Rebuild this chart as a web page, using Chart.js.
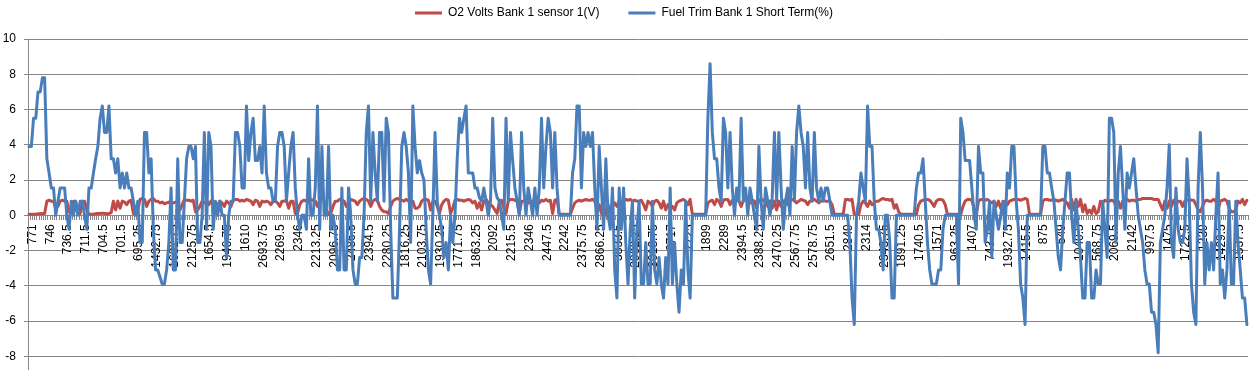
<!DOCTYPE html>
<html>
<head>
<meta charset="utf-8">
<script src="https://cdn.jsdelivr.net/npm/chart.js@4/dist/chart.umd.min.js"></script>
<style>
html,body{margin:0;padding:0;background:#fff;overflow:hidden;}
canvas{display:block;}
</style>
</head>
<body>
<canvas id="c" width="1256" height="400"></canvas>
<script>
// X-axis tick labels (one every 8 samples)
const tickLabels = ["771","746","736.5","711.5","704.5","701.5","695.25","1432.75","1632.75","2125.75","1654.5","1946.75","1610","2693.75","2269.5","2346","2213.25","2096.75","2486.5","2394.5","2280.25","1816.25","2103.75","1930.25","1771.75","1863.25","2092","2215.5","2346","2447.5","2242","2375.75","2866.25","3833.5","2902.25","3018.75","2717","2725","1899","2289","2394.5","2388.25","2470.25","2567.75","2578.75","2651.5","2849","2314","2343.75","1891.25","1740.5","1571","963.25","1407","743.75","1932.75","1415.5","875","549","1040.5","568.75","2069.5","2142","997.5","1475","1722.5","1239","1429.5","1537.5"];
const labelEvery = 8;

// O2 Volts Bank 1 sensor 1 (V)
const o2Volts = [
0.05,0.05,0.05,0.06,0.08,0.08,0.1,0.1,
0.8,0.85,0.8,0.8,0.4,0.5,0.8,0.85,
0.8,0.8,0.2,0.3,0.8,0.8,0.05,0.1,
0.8,0.8,0.3,0.05,0.05,0.06,0.08,0.1,
0.1,0.12,0.1,0.08,0.1,0.15,0.8,0.3,
0.8,0.4,0.8,0.75,0.6,0.8,0.85,0.1,
0.1,0.3,0.9,0.95,0.9,0.5,0.8,0.9,
0.95,0.8,0.8,0.7,0.75,0.65,0.7,0.75,
0.6,0.7,0.75,0.7,0.3,0.6,0.9,0.85,
0.85,0.8,0.85,0.2,0.3,0.5,0.8,0.7,
0.8,0.6,0.8,0.75,0.2,0.6,0.8,0.7,
0.5,0.8,0.7,0.5,0.85,0.9,0.9,0.8,
0.85,0.8,0.9,0.85,0.8,0.6,0.85,0.8,
0.5,0.8,0.75,0.8,0.75,0.6,0.8,0.8,
0.7,0.5,0.8,0.8,0.85,0.4,0.8,0.8,
0.1,0.1,0.6,0.8,0.85,0.8,0.8,0.9,
0.85,0.8,0.5,0.8,0.9,0.85,0.3,0.05,
0.1,0.5,0.8,0.8,0.9,0.85,0.8,0.5,
0.7,0.9,0.85,0.8,0.6,0.8,0.9,0.95,
0.9,0.8,0.5,0.8,0.9,0.85,0.5,0.3,
0.2,0.2,0.1,0.5,0.8,0.9,0.95,0.9,
0.85,0.8,0.9,0.8,0.8,0.8,0.4,0.4,
0.5,0.8,0.9,0.9,0.85,0.3,0.8,0.8,
0.5,0.1,0.6,0.8,0.9,0.85,0.1,0.4,
0.85,0.9,0.85,0.85,0.8,0.85,0.9,0.85,
0.7,0.8,0.4,0.7,0.3,0.8,0.9,0.7,
0.6,0.5,0.3,0.1,0.8,0.85,0.4,0.1,
0.8,0.9,0.9,0.85,0.8,0.1,0.8,0.8,
0.9,0.7,0.8,0.8,0.85,0.8,0.7,0.85,
0.8,0.9,0.8,0.85,0.1,0.85,0.9,0.05,
0.05,0.05,0.05,0.05,0.05,0.4,0.7,0.8,
0.85,0.8,0.85,0.9,0.85,0.85,0.9,0.8,
0.3,0.6,0.1,0.5,0,0.6,0.2,0.5,
0.7,0.5,0.8,0.7,0.85,0.9,0.85,0.9,
0.8,0.85,0.8,0.8,0.85,0.6,0.3,0.8,
0.7,0.5,0.8,0.85,0.7,0.4,0.8,0.3,
0.6,0.4,0.5,0.3,0.7,0.8,0.85,0.9,
0.8,0.6,0.9,0.05,0.05,0.05,0.05,0.05,
0.05,0.05,0.7,0.8,0.85,0.6,0.9,0.8,
0.5,0.85,0.9,0.9,0.6,0.85,0.8,0.9,
0.8,0.5,0.85,0.9,0.8,0.7,0.85,0.8,
0.4,0.85,0.9,0.85,0.8,0.5,0.8,0.4,
0.8,0.3,0.8,0.5,0.8,0.85,0.6,0.8,
0.9,0.85,0.7,0.8,0.9,0.85,0.8,0.6,
0.8,0.85,0.9,0.8,0.7,0.8,0.85,0.8,
0.8,0.8,0.6,0.05,0.05,0.05,0.05,0.05,
0.9,0.9,0.85,0.9,0.05,0.05,0.05,0.6,
0.8,0.7,0.5,0.8,0.6,0.7,0.8,0.8,
0.9,0.95,0.9,0.9,0.85,0.9,0.4,0.6,
0.2,0.05,0.05,0.05,0.05,0.05,0.05,0.05,
0.05,0.6,0.8,0.85,0.9,0.9,0.85,0.7,
0.5,0.8,0.9,0.9,0.85,0.6,0.05,0.05,
0.05,0.05,0.05,0.05,0.05,0.5,0.8,0.9,
0.9,0.85,0.4,0.05,0.8,0.9,0.9,0.85,
0.9,0.8,0.7,0.8,0.5,0.8,0.4,0.7,
0.8,0.6,0.8,0.85,0.9,0.9,0.9,0.85,
0.9,0.95,0.9,0.05,0.05,0.05,0.05,0.05,
0.05,0.8,0.9,0.9,0.85,0.85,0.9,0.85,
0.8,0.85,0.9,0.8,0.7,0.4,0.9,0.3,
0.9,0.5,0.9,0.2,0.6,0.1,0.3,0.1,
0.5,0.1,0.2,0.8,0.7,0.85,0.8,0.8,
0.85,0.8,0.5,0.8,0.4,0.8,0.85,0.9,
0.8,0.85,0.85,0.8,0.9,0.9,0.95,0.95,
0.95,0.95,0.95,0.9,0.9,0.9,0.6,0.3,
0.8,0.4,0.8,0.5,0.85,0.6,0.8,0.8,
0.5,0.8,0.85,0.9,0.85,0.85,0.6,0.3,
0.2,0.5,0.8,0.85,0.8,0.8,0.9,0.8,
0.3,0.8,0.85,0.9,0.8,0.4,0.2,0.2,
0.3,0.8,0.7,0.9,0.6,0.85
];

// Fuel Trim Bank 1 Short Term (%)
const fuelTrim = [
3.9,3.9,5.5,5.5,7.0,7.0,7.8,7.8,
3.2,2.4,1.55,1.55,0,0.8,1.55,1.55,
1.55,0,-0.8,0.8,0,0.8,0,0.8,
0.8,0,-0.8,1.55,1.55,2.4,3.2,3.9,
5.5,6.2,4.7,4.7,6.2,3.2,3.2,2.4,
3.2,1.55,2.4,1.55,2.4,1.55,1.55,0.8,
0,0.8,-1.55,-1.55,4.7,4.7,2.4,3.2,
-0.8,-3.1,-3.1,-3.5,-3.9,-3.9,-3.1,-1.55,
1.55,-3.1,-3.1,3.2,-1.55,-1.55,0.8,3.2,
3.9,3.9,3.2,3.9,-1.55,-1.55,0,4.7,
-0.8,4.7,3.9,-0.8,0.8,0,0.8,0,
0,-2.4,0,0.8,0.8,4.7,4.7,3.9,
1.55,1.55,6.2,3.1,4.7,5.5,3.1,3.1,
3.9,2.4,6.2,2.4,1.55,1.55,0.8,0.8,
3.9,4.7,4.7,3.9,0.8,2.4,3.9,4.7,
1.55,0,-0.8,0,0,-0.8,3.2,0,
0,1.55,6.2,-0.8,3.9,0,0,3.9,
-0.8,0,-0.8,-3.1,-3.1,1.55,-3.1,-3.1,
1.55,0,-3.1,-3.9,-3.9,-2.4,-2.4,0,
4.7,6.2,0.8,4.7,2.4,0.8,4.7,4.7,
0.8,5.5,4.7,-0.8,-4.7,-4.7,-4.7,-0.8,
3.9,4.7,3.9,2.4,-1.55,6.2,3.9,2.4,
3.1,2.4,2.0,-0.8,-3.1,-3.9,0,4.7,
0.8,0,-0.8,-2.4,-1.55,-3.1,0,-1.55,
0,3.2,5.5,4.7,5.5,6.2,2.4,2.4,
2.4,1.55,1.55,1.0,0.8,1.55,0.8,0,
0.8,5.5,1.55,1.0,0.8,0,-0.8,5.5,
0.8,4.7,3.1,1.55,0.8,0,4.7,1.55,
0,1.55,0.8,0,1.55,0,1.55,5.5,
1.55,3.9,5.5,4.7,1.55,4.7,1.55,0,
0,0,0,0,0,2.4,3.2,6.2,
6.2,1.55,4.7,3.9,4.7,3.9,4.7,1.55,
-0.8,3.9,1.55,-0.8,3.2,0,-0.8,1.55,
-3.1,-4.7,1.55,-0.8,1.55,-1.55,-3.9,-0.8,
0.8,-4.7,-0.8,0.8,-3.9,-3.9,-1.55,-3.9,
-3.9,0.8,-3.1,-3.9,-2.4,-3.9,-4.7,-2.4,
-3.9,1.55,-3.9,-1.55,-3.9,-5.5,-3.1,-3.9,
0.8,-3.1,-4.7,0,0,0,0,0,
0,0,5.5,8.6,4.7,3.2,3.2,1.55,
0.8,5.5,4.7,1.55,4.7,1.55,0,1.55,
0.8,5.5,0.8,1.55,0,1.55,0.8,0,
-0.8,3.9,0.8,-0.8,1.55,0.8,0,1.0,
4.7,0.8,4.7,1.55,-0.8,0.8,1.55,0,
3.9,0.8,4.7,6.2,4.7,3.9,1.55,4.7,
1.55,0.8,4.7,1.55,0.8,1.55,0.8,1.55,
1.55,0.8,0,0,0,0,0,0,
0,0,-1.55,-4.7,-6.2,0,0.8,2.4,
1.55,0.8,6.2,3.9,3.9,0.8,-0.8,-0.8,
-1.55,-3.1,0,0,-1.55,-4.7,-4.7,0,
0,0,0,0,0,0,0,0,
1.55,2.4,2.4,3.2,0.8,-1.55,-3.1,-3.9,
-3.9,-3.9,-3.1,-3.1,-0.8,0,0,0,
0,0,0,-3.9,5.5,4.7,3.1,3.1,
3.1,1.55,0,-0.8,3.9,2.4,2.4,-1.55,
-0.8,0.8,-2.4,0.8,0,-0.8,0,0.8,
-0.8,2.4,1.55,3.9,3.9,0.8,-0.8,-3.9,
-4.7,-6.2,0,0,0,0,0,0,
0,3.9,3.9,2.4,2.4,1.55,0.8,-0.8,
-2.4,-3.1,-0.8,0.8,2.4,2.4,0,-1.55,
0.8,-0.8,-2.4,-4.7,-4.7,-1.55,-1.55,-4.7,
-4.7,-3.1,-3.9,-3.9,0.8,-0.8,-2.4,5.5,
5.5,4.7,-1.55,2.4,3.9,1.55,-0.8,2.4,
1.55,2.4,3.2,1.55,0,-0.8,-1.55,-3.1,
-3.9,-3.9,-5.5,-5.5,-6.2,-7.8,-1.55,-0.8,
0,1.55,4.0,-1.55,-2.4,1.55,-0.8,-1.55,
-1.55,-0.8,3.2,0.8,-3.9,-5.5,-6.2,1.55,
4.7,1.55,-3.9,-1.55,-3.1,-1.55,-3.1,0,
2.4,-3.9,-3.1,-4.7,-3.1,0.8,-3.9,-3.9,
0.8,-1.55,-3.1,-4.7,-4.7,-6.2
];

const seriesNames = ["O2 Volts Bank 1 sensor 1(V)", "Fuel Trim Bank 1 Short Term(%)"];
const seriesColors = ["#BE4B48", "#4A7EBB"];

const categories = o2Volts.map((_, i) => (i % labelEvery === 0 ? (tickLabels[i / labelEvery] || '') : ''));

Chart.defaults.font.family = "'Liberation Sans', Arial, sans-serif";
Chart.defaults.font.size = 12;
Chart.defaults.color = '#000';

const legendMargin = {
  id: 'legendMargin',
  beforeInit(chart) {
    const origFit = chart.legend.fit;
    chart.legend.fit = function () {
      origFit.call(this);
      this.height += 10;
    };
  }
};

new Chart(document.getElementById('c'), {
  type: 'line',
  data: {
    labels: categories,
    datasets: [
      {
        label: seriesNames[0],
        data: o2Volts,
        borderColor: seriesColors[0],
        backgroundColor: seriesColors[0],
        borderWidth: 3,
        pointRadius: 0,
        tension: 0,
        borderJoinStyle: 'round',
        borderCapStyle: 'round',
        order: 1
      },
      {
        label: seriesNames[1],
        data: fuelTrim,
        borderColor: seriesColors[1],
        backgroundColor: seriesColors[1],
        borderWidth: 3,
        pointRadius: 0,
        tension: 0,
        borderJoinStyle: 'round',
        borderCapStyle: 'round',
        order: 0
      }
    ]
  },
  options: {
    responsive: false,
    animation: false,
    devicePixelRatio: 1,
    layout: { padding: { left: 0, right: 8, top: -22, bottom: 8.5 } },
    plugins: {
      tooltip: { enabled: false },
      legend: {
        position: 'top',
        align: 'center',
        labels: {
          boxWidth: 27,
          boxHeight: 3,
          padding: 29,
          color: '#000',
          font: { size: 12 },
          sort: (a, b) => a.datasetIndex - b.datasetIndex,
          generateLabels: (chart) => Chart.defaults.plugins.legend.labels.generateLabels(chart).map(l => Object.assign({}, l, { lineWidth: 0, fillStyle: l.strokeStyle }))
        }
      }
    },
    scales: {
      x: {
        type: 'category',
        position: { y: 0 },
        offset: true,
        grid: {
          display: true,
          drawOnChartArea: false,
          drawTicks: true,
          tickLength: 4,
          color: '#868686',
          offset: true
        },
        border: { display: true, color: '#868686', width: 1 },
        ticks: {
          autoSkip: false,
          maxRotation: 90,
          minRotation: 90,
          padding: 5,
          labelOffset: 3.5,
          color: '#000',
          font: { size: 12 }
        },
        afterFit(scale) { scale.paddingLeft = 0; scale.paddingRight = 0; }
      },
      y: {
        min: -10,
        max: 10,
        ticks: { stepSize: 2, padding: 8, color: '#000', font: { size: 12 } },
        grid: { color: '#868686', tickLength: 4, drawTicks: true },
        border: { display: true, color: '#868686', width: 1 },
        afterFit(scale) { scale.width = 28; scale.paddingTop = 0; scale.paddingBottom = 0; }
      }
    }
  },
  plugins: [legendMargin]
});
</script>
</body>
</html>
